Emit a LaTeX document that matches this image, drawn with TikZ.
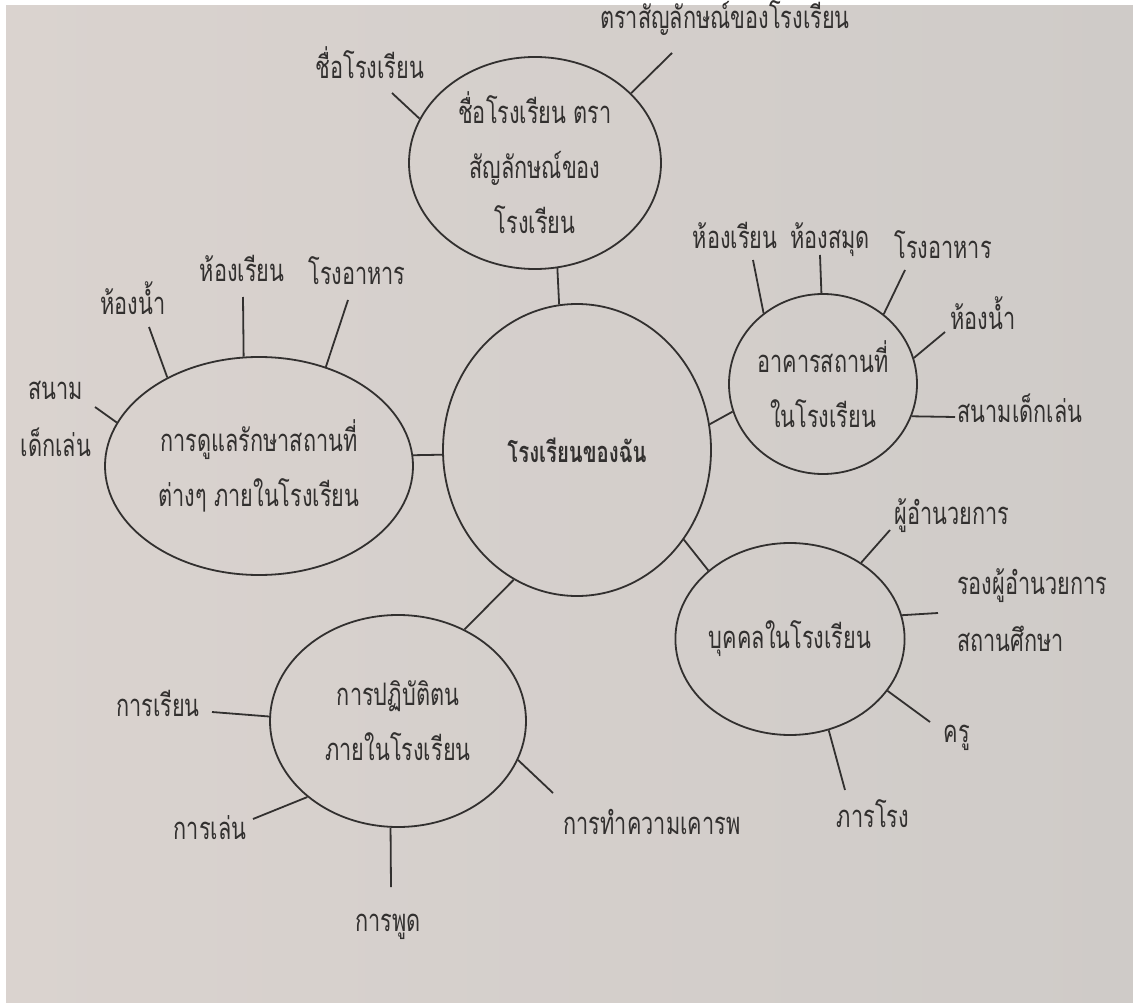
\documentclass[tikz,border=0pt]{standalone}
\usepackage{fontspec}
\newfontfamily\thaifont[Script=Thai,FakeStretch=0.7]{Loma}
\usetikzlibrary{shapes.geometric}
\definecolor{paperL}{RGB}{218,211,207}
\definecolor{paperR}{RGB}{207,203,200}
\definecolor{ink}{RGB}{50,48,47}

\begin{document}
\begin{tikzpicture}[x=1pt,y=-1pt,
	bubble/.style={draw=ink, line width=1.8pt, ellipse, inner sep=0pt, align=center, text=ink, font=\thaifont\fontsize{31}{55}\selectfont},
	leaf/.style={text=ink, anchor=base, align=center, inner sep=0pt, font=\thaifont\fontsize{31}{57}\selectfont},
	link/.style={draw=ink, line width=1.8pt}]
	%paper
	\useasboundingbox (0,0) rectangle (1133,1003);
	\fill[white] (0,0) rectangle (1133,1003);
	\shade[left color=paperL, right color=paperR] (6,6) rectangle (1133,1003);

	%bubbles
	\node[bubble, minimum width=268pt, minimum height=292pt, font=\thaifont\bfseries\fontsize{29}{55}\selectfont] (school) at (577,450) {โรงเรียนของฉัน};
	\node[bubble, minimum width=252pt, minimum height=212pt] (emblem) at (535,163) {ชื่อโรงเรียน ตรา\\สัญลักษณ์ของ\\โรงเรียน};
	\node[bubble, minimum width=188pt, minimum height=180pt] (building) at (823,384) {อาคารสถานที่\\ในโรงเรียน};
	\node[bubble, minimum width=308pt, minimum height=218pt] (care) at (259,466) {การดูแลรักษาสถานที่\\ต่างๆ ภายในโรงเรียน};
	\node[bubble, minimum width=256pt, minimum height=212pt] (conduct) at (398,721) {การปฏิบัติตน\\ภายในโรงเรียน};
	\node[bubble, minimum width=222pt, minimum height=192pt] (people) at (790,639) {บุคคลในโรงเรียน};

	%links to the middle
	\draw[link] (emblem.282) -- (school.97);
	\draw[link] (school.11) -- (building.197);
	\draw[link] (care.4) -- (school.182);
	\draw[link] (school.244) -- (conduct.54);
	\draw[link] (school.320) -- (people.140);

	%name and emblem
	\coordinate (e1) at (392,93); \node[leaf] (schoolname) at (370,79) {ชื่อโรงเรียน};
	\coordinate (e2) at (672,53); \node[leaf] (logo) at (725,29) {ตราสัญลักษณ์ของโรงเรียน};
	\draw[link] (emblem.159) -- (e1);
	\draw[link] (emblem.36) -- (e2);

	%buildings
	\coordinate (b1) at (753,260); \node[leaf] (classroom) at (735,249) {ห้องเรียน};
	\coordinate (b2) at (820,255); \node[leaf] (library) at (830,249) {ห้องสมุด};
	\coordinate (b3) at (905,270); \node[leaf] (canteen) at (943,259) {โรงอาหาร};
	\coordinate (b4) at (945,332); \node[leaf] (toilet) at (983,329) {ห้องน้ำ};
	\coordinate (b5) at (955,417); \node[leaf] (playground) at (1020,422) {สนามเด็กเล่น};
	\draw[link] (building.130) -- (b1);
	\draw[link] (building.91) -- (b2);
	\draw[link] (building.49) -- (b3);
	\draw[link] (building.16) -- (b4);
	\draw[link] (building.340) -- (b5);

	%care of places
	\coordinate (c1) at (95,407); \node[leaf] (careplay) at (56,456) {สนาม\\เด็กเล่น};
	\coordinate (c2) at (149,327); \node[leaf] (caretoilet) at (133,314) {ห้องน้ำ};
	\coordinate (c3) at (243,297); \node[leaf] (careroom) at (242,281) {ห้องเรียน};
	\coordinate (c4) at (348,300); \node[leaf] (carecanteen) at (357,284) {โรงอาหาร};
	\draw[link] (care.163) -- (c1);
	\draw[link] (care.136) -- (c2);
	\draw[link] (care.98) -- (c3);
	\draw[link] (care.56) -- (c4);

	%conduct
	\coordinate (d1) at (212,712); \node[leaf] (study) at (158,716) {การเรียน};
	\coordinate (d2) at (253,819); \node[leaf] (play) at (210,839) {การเล่น};
	\coordinate (d3) at (391,887); \node[leaf] (speak) at (388,931) {การพูด};
	\coordinate (d4) at (553,793); \node[leaf] (respect) at (652,834) {การทำความเคารพ};
	\draw[link] (conduct.178) -- (d1);
	\draw[link] (conduct.220) -- (d2);
	\draw[link] (conduct.266) -- (d3);
	\draw[link] (conduct.342) -- (d4);

	%people
	\coordinate (p1) at (890,530); \node[leaf] (director) at (952,524) {ผู้อำนวยการ};
	\coordinate (p2) at (938,613); \node[leaf, anchor=base west, align=left] (deputy) at (957,651) {รองผู้อำนวยการ\\สถานศึกษา};
	\coordinate (p3) at (930,722); \node[leaf] (teacher) at (957,742) {ครู};
	\coordinate (p4) at (845,790); \node[leaf] (janitor) at (873,827) {ภารโรง};
	\draw[link] (people.47) -- (p1);
	\draw[link] (people.12) -- (p2);
	\draw[link] (people.332) -- (p3);
	\draw[link] (people.293) -- (p4);
\end{tikzpicture}
\end{document}
